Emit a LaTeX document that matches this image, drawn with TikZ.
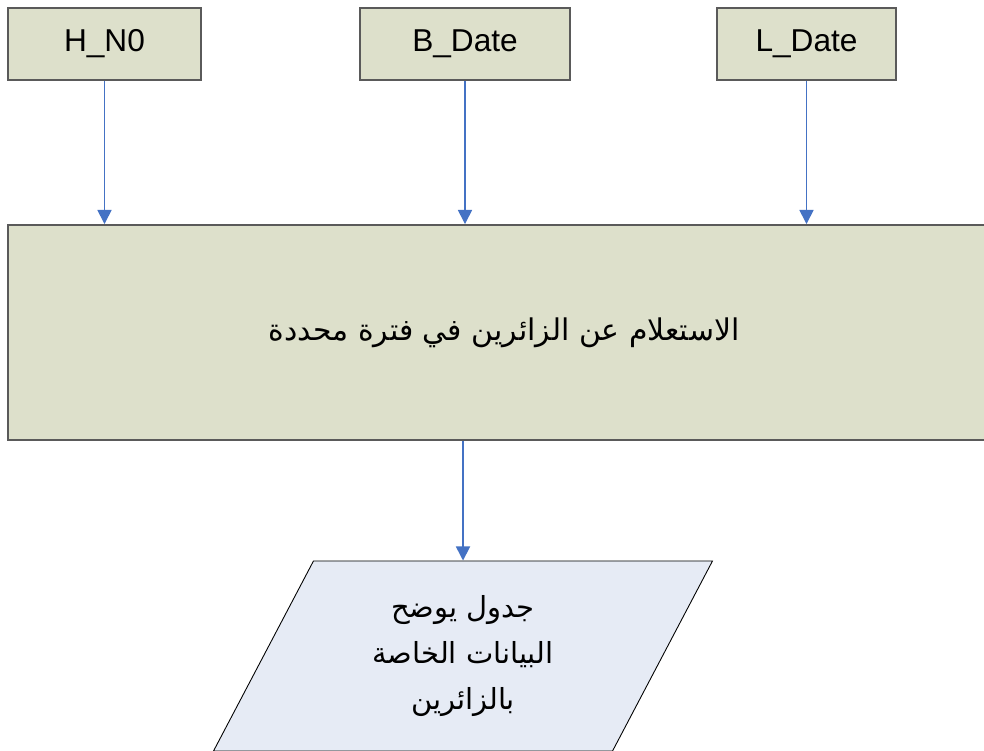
\documentclass[tikz,border=0pt]{standalone}
\usepackage{fontspec}
\setmainfont{Liberation Sans}
\newfontfamily\arabicfont[Script=Arabic]{DejaVu Sans}
\TeXXeTstate=1
\usepackage{tikz}
\usetikzlibrary{arrows.meta,shapes.geometric}
\definecolor{boxfill}{HTML}{DDE0CB}
\definecolor{parafill}{HTML}{E6EBF5}
\definecolor{boxline}{HTML}{5A5A5A}
\definecolor{flowblue}{HTML}{4472C4}

\begin{document}
\begin{tikzpicture}[
    inbox/.style={draw=boxline, line width=1.1pt, fill=boxfill, minimum height=1.44cm,
                  font=\fontsize{18}{22}\selectfont},
    querybox/.style={draw=boxline, line width=1.1pt, fill=boxfill, minimum width=19.84cm,
                  minimum height=4.3cm, font=\arabicfont\fontsize{17}{22}\selectfont},
    outbox/.style={draw=black, line width=0.5pt, fill=parafill, trapezium,
                  trapezium left angle=64, trapezium right angle=116, trapezium stretches=true,
                  minimum width=10cm, minimum height=3.8cm, align=center,
                  font=\arabicfont\fontsize{16.5}{26}\selectfont},
    flow/.style={draw=flowblue, line width=0.9pt, -{Triangle[width=8pt,length=8pt]}}
  ]
  % page frame (984 x 751 px, 1px = 0.02cm)
  \clip (0,0) rectangle (19.68,-15.02);
  \fill[white] (0,0) rectangle (19.68,-15.02);
  % inputs
  \node[inbox, minimum width=3.86cm] (hno)   at (2.09,-0.88)  {H\_N0};
  \node[inbox, minimum width=4.20cm] (bdate) at (9.30,-0.88)  {B\_Date};
  \node[inbox, minimum width=3.58cm] (ldate) at (16.13,-0.88) {L\_Date};
  % query
  \node[querybox] (query) at (10.08,-6.65)
     {\beginR الاستعلام عن الزائرين في فترة محددة\endR};
  % output
  \node[outbox] (table) at (9.26,-13.12)
     {\beginR جدول يوضح\endR\\ \beginR البيانات الخاصة\endR\\ \beginR بالزائرين\endR};
  % connectors
  \draw[flow] (hno.south)   -- (hno.south |- query.north);
  \draw[flow] (bdate.south) -- (bdate.south |- query.north);
  \draw[flow] (ldate.south) -- (ldate.south |- query.north);
  \draw[flow] (table.north |- query.south) -- (table.north);
\end{tikzpicture}
\end{document}
